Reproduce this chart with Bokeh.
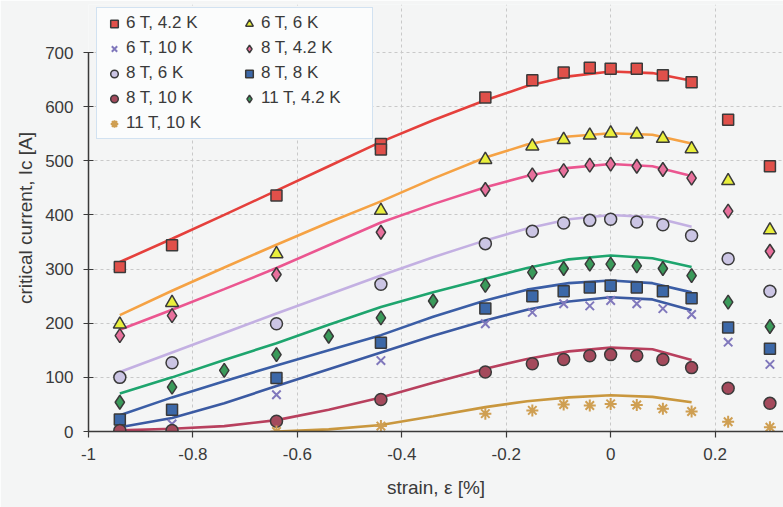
from bokeh.plotting import figure
from bokeh.models import Range1d, FixedTicker, Legend, LegendItem
from bokeh.embed import file_html
from bokeh.resources import INLINE

# ---------------- data ----------------
x_ticks = [-1.0, -0.8, -0.6, -0.4, -0.2, 0.0, 0.2]
x_tick_labels = ["-1", "-0.8", "-0.6", "-0.4", "-0.2", "0", "0.2"]
y_ticks = [0, 100, 200, 300, 400, 500, 600, 700]

strain_main = [-0.94, -0.84, -0.64, -0.44, -0.24, -0.15, -0.09, -0.04, 0.0, 0.05, 0.10, 0.155, 0.225, 0.305]
strain_6T_4K = [-0.94, -0.84, -0.64, -0.44, -0.44, -0.24, -0.15, -0.09, -0.04, 0.0, 0.05, 0.10, 0.155, 0.225, 0.305]
strain_11T_4K = [-0.94, -0.84, -0.74, -0.64, -0.54, -0.44, -0.34, -0.24, -0.15, -0.09, -0.04, 0.0, 0.05, 0.10, 0.155, 0.225, 0.305]
strain_11T_10K = [-0.64, -0.44, -0.24, -0.15, -0.09, -0.04, 0.0, 0.05, 0.10, 0.155, 0.225, 0.305]

ic_6T_4K = [304, 344, 436, 531, 521, 617, 649, 663, 672, 670, 670, 658, 645, 576, 490]
ic_6T_6K = [198, 238, 328, 408, 502, 527, 539, 547, 551, 549, 541, 522, 463, 372]
ic_6T_10K = [3, 14, 68, 131, 199, 220, 236, 232, 242, 236, 227, 216, 165, 124]
ic_8T_4K = [177, 214, 290, 368, 447, 474, 482, 492, 494, 490, 484, 468, 407, 333]
ic_8T_6K = [100, 127, 199, 272, 347, 370, 385, 390, 392, 387, 382, 362, 319, 259]
ic_8T_8K = [22, 40, 99, 164, 227, 250, 259, 266, 269, 266, 259, 246, 192, 153]
ic_8T_10K = [2, 2, 19, 59, 110, 125, 133, 140, 142, 140, 133, 118, 80, 52]
ic_11T_4K = [54, 82, 113, 142, 176, 210, 241, 270, 294, 301, 309, 309, 306, 301, 288, 239, 194]
ic_11T_10K = [0, 10, 33, 39, 50, 48, 51, 49, 42, 37, 18, 8]

# fitted curves
fit_strain = [-0.94, -0.84, -0.74, -0.64, -0.54, -0.44, -0.34, -0.24, -0.16, -0.08, 0.0, 0.08, 0.155]
fit_6T_4K = [313, 356, 400, 445, 490, 535, 575, 612, 638, 656, 665, 662, 648]
fit_6T_6K = [215, 260, 303, 345, 386, 425, 467, 506, 530, 545, 551, 548, 532]
fit_6T_10K = [8, 25, 52, 84, 115, 146, 177, 205, 225, 240, 248, 244, 224]
fit_8T_4K = [188, 225, 263, 302, 344, 386, 420, 451, 472, 487, 494, 490, 472]
fit_8T_6K = [110, 146, 182, 218, 253, 288, 322, 353, 375, 392, 400, 396, 378]
fit_8T_8K = [30, 63, 93, 122, 150, 178, 212, 242, 262, 274, 279, 274, 257]
fit_8T_10K = [2, 5, 10, 21, 40, 63, 90, 116, 134, 148, 155, 152, 132]
fit_11T_4K = [70, 100, 132, 163, 197, 230, 257, 282, 302, 318, 325, 320, 304]
fit_strain_11T_10K = [-0.64, -0.54, -0.44, -0.34, -0.24, -0.16, -0.08, 0.0, 0.08, 0.155]
fit_11T_10K = [0, 4, 12, 28, 45, 56, 63, 67, 64, 54]

labels = ["6 T, 4.2 K", "6 T, 6 K", "6 T, 10 K", "8 T, 4.2 K", "8 T, 6 K",
          "8 T, 8 K", "8 T, 10 K", "11 T, 4.2 K", "11 T, 10 K"]

# ---------------- figure ----------------
BG = "#f4f5f5"
FONT = "Liberation Sans"
TXT = "#3a3a3a"
# frame extends above 700 so that the legend (which overlaps the top) is not clipped
p = figure(width=783, height=507, output_backend="svg", toolbar_location=None,
           x_range=Range1d(-1.0, 0.331), y_range=Range1d(0, 788.7),
           min_border_left=88, min_border_right=0, min_border_top=4, min_border_bottom=76)
p.background_fill_color = BG
p.border_fill_color = BG
p.outline_line_color = None

p.xaxis.ticker = FixedTicker(ticks=x_ticks)
p.xaxis.major_label_overrides = dict(zip(x_ticks, x_tick_labels))
p.yaxis.ticker = FixedTicker(ticks=y_ticks)
p.yaxis.bounds = (0, 700)
p.xgrid.ticker = FixedTicker(ticks=x_ticks)
p.ygrid.ticker = FixedTicker(ticks=y_ticks)
p.xgrid.bounds = (0, 700)
for g in (p.xgrid, p.ygrid):
    g.grid_line_color = "#c9c9c9"
    g.grid_line_dash = "3 3"
    g.grid_line_width = 1

for ax in (p.xaxis, p.yaxis):
    ax.axis_line_color = TXT
    ax.axis_line_width = 1.5
    ax.major_tick_line_color = TXT
    ax.major_tick_line_width = 1.2
    ax.minor_tick_line_color = None
    ax.major_label_text_font = FONT
    ax.major_label_text_font_size = "17px"
    ax.major_label_text_color = TXT
    ax.axis_label_text_font = FONT
    ax.axis_label_text_font_size = "19px"
    ax.axis_label_text_font_style = "normal"
    ax.axis_label_text_color = TXT
p.xaxis.major_tick_in = 0
p.xaxis.major_tick_out = 6
p.xaxis.major_label_standoff = 10
p.yaxis.major_tick_in = 5
p.yaxis.major_tick_out = 5
p.yaxis.major_label_standoff = 10
p.yaxis.axis_label = "critical current, Ic [A]"
p.yaxis.axis_label_standoff = 6
p.xaxis.axis_label = "strain, ε [%]"
p.xaxis.axis_label_standoff = 14

# ---------------- curves ----------------
LW = 2.6
p.line(fit_strain, fit_6T_4K, line_color="#e5403c", line_width=LW)
p.line(fit_strain, fit_6T_6K, line_color="#f5a244", line_width=LW)
p.line(fit_strain, fit_8T_4K, line_color="#eb5690", line_width=LW)
p.line(fit_strain, fit_8T_6K, line_color="#c3b0e2", line_width=LW)
p.line(fit_strain, fit_11T_4K, line_color="#1ea56e", line_width=LW)
p.line(fit_strain, fit_8T_8K, line_color="#3b5ea6", line_width=LW)
p.line(fit_strain, fit_6T_10K, line_color="#3b5aa2", line_width=LW)
p.line(fit_strain, fit_8T_10K, line_color="#b8405e", line_width=LW)
p.line(fit_strain_11T_10K, fit_11T_10K, line_color="#c9973e", line_width=LW)

# ---------------- markers ----------------
OL = "#3a3a3a"
r_6T_4K = p.scatter(strain_6T_4K, ic_6T_4K, marker="square", size=11,
                    fill_color="#e0504a", line_color=OL, line_width=1.5)
r_6T_6K = p.scatter(strain_main, ic_6T_6K, marker="triangle", size=13,
                    fill_color="#e9ef3c", line_color=OL, line_width=1.5)
r_6T_10K = p.scatter(strain_main, ic_6T_10K, marker="x", size=12,
                     line_color="#8078bc", line_width=2)
r_8T_4K = p.scatter(strain_main, ic_8T_4K, marker="diamond", size=14,
                    fill_color="#e8709c", line_color=OL, line_width=1.5)
r_8T_6K = p.scatter(strain_main, ic_8T_6K, marker="circle", size=12,
                    fill_color="#cbc5e4", line_color=OL, line_width=1.5)
r_8T_8K = p.scatter(strain_main, ic_8T_8K, marker="square", size=11,
                    fill_color="#3c68a8", line_color=OL, line_width=1.5)
r_8T_10K = p.scatter(strain_main, ic_8T_10K, marker="circle", size=12,
                     fill_color="#a44a5c", line_color=OL, line_width=1.5)
r_11T_4K = p.scatter(strain_11T_4K, ic_11T_4K, marker="diamond", size=14,
                     fill_color="#3a9a5a", line_color=OL, line_width=1.5)
r_11T_10K = p.scatter(strain_11T_10K, ic_11T_10K, marker="asterisk", size=12,
                      line_color="#cf9f52", line_width=2)

renderers = [r_6T_4K, r_6T_6K, r_6T_10K, r_8T_4K, r_8T_6K, r_8T_8K, r_8T_10K, r_11T_4K, r_11T_10K]
items = [LegendItem(label=lab, renderers=[r]) for lab, r in zip(labels, renderers)]
# Bokeh fills legend columns top-to-bottom; reorder so that items read row by row
order = [0, 2, 4, 6, 8, 1, 3, 5, 7]
legend = Legend(items=[items[i] for i in order], location=(8, 292), ncols=2,
                label_text_font=FONT, label_text_font_size="17px", label_text_color=TXT,
                glyph_width=24, glyph_height=19, label_height=19, label_width=106,
                label_standoff=0, spacing=5, padding=5, margin=0,
                border_line_color="#a9c8e6", border_line_width=1.5,
                background_fill_color="#fbfcfc", background_fill_alpha=1.0)
p.add_layout(legend, "center")

open("out.html", "w").write(file_html(p, INLINE))
